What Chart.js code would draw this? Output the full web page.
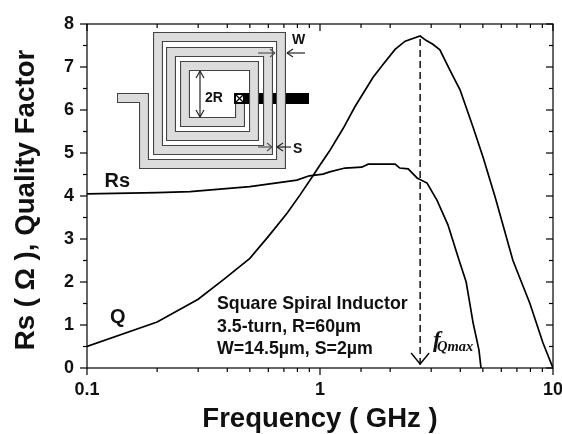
<!DOCTYPE html>
<html>
<head>
<meta charset="utf-8">
<script src="https://cdn.jsdelivr.net/npm/chart.js@4"></script>
<style>
body { margin: 0; background: #fff; }
canvas { display: block; }
</style>
</head>
<body>
<canvas id="chart" width="562" height="434"></canvas>
<script>
// Values
const qFreq = [0.1, 0.2, 0.3, 0.384, 0.5, 0.598, 0.722, 0.82, 0.933, 1, 1.1, 1.26, 1.41, 1.69, 1.86, 2.1, 2.32, 2.69, 2.85, 3.05, 3.27, 3.61, 3.99, 4.54, 5.01, 5.64, 6.73, 7.96, 9.06, 10];
const qValues = [0.5, 1.07, 1.6, 2.05, 2.55, 3.05, 3.6, 4.02, 4.47, 4.72, 5.05, 5.58, 6.07, 6.76, 7.05, 7.41, 7.6, 7.72, 7.62, 7.53, 7.4, 6.93, 6.47, 5.6, 4.9, 3.98, 2.5, 1.5, 0.58, 0];
const rsFreq = [0.1, 0.2, 0.277, 0.5, 0.796, 0.9, 1.03, 1.1, 1.28, 1.51, 1.61, 2.1, 2.2, 2.39, 2.61, 2.88, 3.18, 3.54, 3.95, 4.24, 4.54, 4.81, 4.91];
const rsValues = [4.05, 4.08, 4.1, 4.22, 4.37, 4.47, 4.51, 4.56, 4.65, 4.67, 4.74, 4.74, 4.65, 4.63, 4.42, 4.3, 3.9, 3.33, 2.51, 2.0, 1.05, 0.42, 0];
const fQmax = 2.69;
const fQmaxTop = 7.65;
const xLabels = [0.1, 1, 10];
const infoLines = ['Square Spiral Inductor', '3.5-turn, R=60\u00b5m', 'W=14.5\u00b5m, S=2\u00b5m'];

const FONT = '"Liberation Sans", Arial, sans-serif';
const SERIF = '"Liberation Serif", "Times New Roman", serif';

// Spiral centre line, taken from the inset drawing
const spiralPath = [[117, 98], [144, 98], [144, 164], [281, 164], [281, 37], [158, 37], [158, 150], [268, 150], [268, 52], [171, 52], [171, 136], [254, 136], [254, 66], [185, 66], [185, 122], [240, 122], [240, 98]];

function line(ctx, x1, y1, x2, y2) {
    ctx.beginPath();
    ctx.moveTo(x1, y1);
    ctx.lineTo(x2, y2);
    ctx.stroke();
}

function polyline(ctx, pts, width, color) {
    ctx.beginPath();
    pts.forEach((p, i) => i ? ctx.lineTo(p[0], p[1]) : ctx.moveTo(p[0], p[1]));
    ctx.lineWidth = width;
    ctx.strokeStyle = color;
    ctx.lineJoin = 'miter';
    ctx.stroke();
}

function text(ctx, str, x, y, font, align) {
    ctx.font = font;
    ctx.textAlign = align || 'left';
    ctx.textBaseline = 'alphabetic';
    ctx.fillStyle = '#111';
    ctx.fillText(str, x, y);
}

// Inset: spiral with its dimension arrows
function drawInset(ctx) {
    ctx.fillStyle = '#000';
    ctx.fillRect(240, 93, 69, 11);

    polyline(ctx, spiralPath, 10, '#444');
    const inner = spiralPath.map(p => p.slice());
    inner[0][0] += 1;
    polyline(ctx, inner, 7.8, '#dcdcdc');

    // Via
    ctx.fillStyle = '#000';
    ctx.fillRect(234, 93, 11, 11);
    ctx.fillStyle = '#fff';
    ctx.fillRect(236, 95, 7, 7);
    ctx.strokeStyle = '#000';
    ctx.lineWidth = 1.2;
    line(ctx, 236, 95, 243, 102);
    line(ctx, 243, 95, 236, 102);

    ctx.strokeStyle = '#222';
    ctx.lineWidth = 1.2;
    // 2R
    line(ctx, 200, 71, 200, 117);
    line(ctx, 196, 78, 200, 71); line(ctx, 204, 78, 200, 71);
    line(ctx, 196, 110, 200, 117); line(ctx, 204, 110, 200, 117);
    // w
    ctx.strokeStyle = '#555';
    line(ctx, 258, 53, 275, 53);
    line(ctx, 270, 49, 275, 53); line(ctx, 270, 57, 275, 53);
    ctx.strokeStyle = '#222';
    line(ctx, 305, 53, 287, 53);
    line(ctx, 293, 49, 287, 53); line(ctx, 293, 57, 287, 53);
    // s
    ctx.strokeStyle = '#555';
    line(ctx, 258, 147, 272, 147);
    line(ctx, 267, 143, 272, 147); line(ctx, 267, 151, 272, 147);
    ctx.strokeStyle = '#222';
    line(ctx, 291, 147, 277, 147);
    line(ctx, 283, 143, 277, 147); line(ctx, 283, 151, 277, 147);

    text(ctx, 'W', 292, 44, 'bold 14px ' + FONT);
    text(ctx, 'S', 293, 153, 'bold 14px ' + FONT);
    text(ctx, '2R', 205, 102, 'bold 14px ' + FONT);
}

const decorPlugin = {
    id: 'decor',
    afterDatasetsDraw(chart) {
        const ctx = chart.ctx;
        const a = chart.chartArea;
        const xs = chart.scales.x;
        const ys = chart.scales.y;
        ctx.save();

        // Frame and ticks on all four sides
        ctx.strokeStyle = '#000';
        ctx.lineWidth = 1.2;
        ctx.strokeRect(a.left, a.top, a.right - a.left, a.bottom - a.top);
        xs.ticks.forEach(t => {
            const x = xs.getPixelForValue(t.value);
            const len = xLabels.includes(t.value) ? 7 : 4;
            line(ctx, x, a.bottom, x, a.bottom + len);
            line(ctx, x, a.top, x, a.top + len);
        });
        ys.ticks.forEach(t => {
            const y = ys.getPixelForValue(t.value);
            const len = Number.isInteger(t.value) ? 7 : 4;
            line(ctx, a.left - len, y, a.left, y);
            line(ctx, a.right - len, y, a.right, y);
        });

        // Arrow head at the end of the dashed line
        const ax = xs.getPixelForValue(fQmax);
        const ay = ys.getPixelForValue(0) - 4;
        ctx.lineWidth = 1.4;
        line(ctx, ax - 9, ay - 11, ax, ay);
        line(ctx, ax + 9, ay - 11, ax, ay);

        drawInset(ctx);

        text(ctx, 'Rs', 104.5, 187, 'bold 20px ' + FONT);
        text(ctx, 'Q', 110, 323, 'bold 20px ' + FONT);
        infoLines.forEach((s, i) => text(ctx, s, 217, 309 + i * 22.5, 'bold 17.8px ' + FONT));
        text(ctx, 'f', 433, 347, 'italic bold 23px ' + SERIF);
        text(ctx, 'Qmax', 437, 351, 'italic bold 14.5px ' + SERIF);

        // Y title sits a little below the plot centre in the original
        ctx.translate(34, 200);
        ctx.rotate(-Math.PI / 2);
        text(ctx, 'Rs ( \u03a9 ), Quality Factor', 0, 0, 'bold 27.7px ' + FONT, 'center');
        ctx.restore();
    }
};

new Chart(document.getElementById('chart'), {
    type: 'line',
    data: {
        datasets: [
            {
                label: 'Q',
                data: qFreq.map((f, i) => ({ x: f, y: qValues[i] })),
                borderColor: '#000',
                borderWidth: 1.7,
                pointRadius: 0,
                tension: 0
            },
            {
                label: 'Rs',
                data: rsFreq.map((f, i) => ({ x: f, y: rsValues[i] })),
                borderColor: '#000',
                borderWidth: 1.7,
                pointRadius: 0,
                tension: 0
            },
            {
                label: 'fQmax',
                data: [{ x: fQmax, y: fQmaxTop }, { x: fQmax, y: 0 }],
                borderColor: '#000',
                borderWidth: 1.4,
                borderDash: [7, 4],
                pointRadius: 0,
                tension: 0
            }
        ]
    },
    options: {
        responsive: false,
        animation: false,
        layout: { padding: { top: 24, right: 9, left: 0, bottom: 0 } },
        plugins: { legend: { display: false }, tooltip: { enabled: false } },
        scales: {
            x: {
                type: 'logarithmic',
                min: 0.1,
                max: 10,
                afterFit: scale => { scale.height = 66; scale.paddingLeft = 0; scale.paddingRight = 0; },
                grid: { display: false, drawTicks: false },
                border: { display: false },
                ticks: {
                    autoSkip: false,
                    maxRotation: 0,
                    padding: 11,
                    color: '#111',
                    font: { family: FONT, size: 18, weight: 'bold' },
                    callback: v => xLabels.includes(v) ? String(v) : ''
                },
                title: {
                    display: true,
                    text: 'Frequency ( GHz )',
                    color: '#111',
                    font: { family: FONT, size: 27.5, weight: 'bold' },
                    padding: { top: 0, bottom: -2 }
                }
            },
            y: {
                min: 0,
                max: 8,
                afterFit: scale => { scale.width = 87; },
                grid: { display: false, drawTicks: false },
                border: { display: false },
                ticks: {
                    stepSize: 0.5,
                    autoSkip: false,
                    padding: 13,
                    color: '#111',
                    font: { family: FONT, size: 18, weight: 'bold' },
                    callback: v => Number.isInteger(v) ? String(v) : ''
                }
            }
        }
    },
    plugins: [decorPlugin]
});
</script>
</body>
</html>
